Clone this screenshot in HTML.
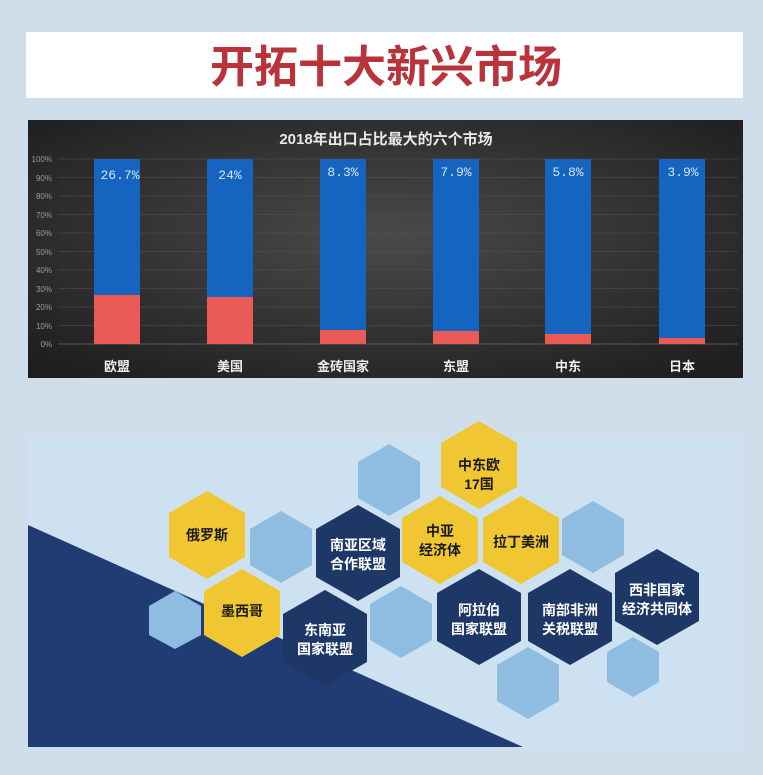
<!DOCTYPE html>
<html><head><meta charset="utf-8"><style>
html,body{margin:0;padding:0;background:#d0deec;}
svg{display:block;font-family:"Liberation Sans","Noto Sans CJK SC",sans-serif;}
</style></head><body>
<svg width="763" height="775" viewBox="0 0 763 775" xmlns="http://www.w3.org/2000/svg">
<defs>
<radialGradient id="bg" cx="50%" cy="45%" r="70%">
<stop offset="0" stop-color="#4a4a4a"/><stop offset="1" stop-color="#1e1e1e"/>
</radialGradient>
</defs>
<rect width="763" height="775" fill="#d0deec"/>
<rect x="26" y="32" width="717" height="66" fill="#ffffff"/>
<text x="386" y="82" text-anchor="middle" font-size="44" font-weight="bold" fill="#b8333a" font-family="'Noto Sans CJK SC',sans-serif">开拓十大新兴市场</text>

<rect x="28" y="120" width="715" height="258" fill="url(#bg)"/>
<text x="386" y="144" text-anchor="middle" font-size="15" font-weight="bold" fill="#e8e8e8">2018年出口占比最大的六个市场</text>
<g font-size="8" fill="#9a9a9a" text-anchor="end">
<text x="52" y="162">100%</text><text x="52" y="181">90%</text><text x="52" y="199">80%</text><text x="52" y="218">70%</text><text x="52" y="236">60%</text><text x="52" y="255">50%</text><text x="52" y="273">40%</text><text x="52" y="292">30%</text><text x="52" y="310">20%</text><text x="52" y="329">10%</text><text x="52" y="347">0%</text>
</g>
<g stroke="#555" stroke-width="0.6">
<line x1="58" y1="159" x2="738" y2="159"/><line x1="58" y1="177.5" x2="738" y2="177.5"/><line x1="58" y1="196" x2="738" y2="196"/><line x1="58" y1="214.5" x2="738" y2="214.5"/><line x1="58" y1="233" x2="738" y2="233"/><line x1="58" y1="251.5" x2="738" y2="251.5"/><line x1="58" y1="270" x2="738" y2="270"/><line x1="58" y1="288.5" x2="738" y2="288.5"/><line x1="58" y1="307" x2="738" y2="307"/><line x1="58" y1="325.5" x2="738" y2="325.5"/>
<line x1="58" y1="344" x2="738" y2="344" stroke="#888"/>
</g>
<g fill="#1565c0">
<rect x="94" y="159" width="46" height="185"/><rect x="207" y="159" width="46" height="185"/><rect x="320" y="159" width="46" height="185"/><rect x="433" y="159" width="46" height="185"/><rect x="545" y="159" width="46" height="185"/><rect x="659" y="159" width="46" height="185"/>
</g>
<g fill="#ea5a57">
<rect x="94" y="295" width="46" height="49"/><rect x="207" y="297" width="46" height="47"/><rect x="320" y="330" width="46" height="14"/><rect x="433" y="331" width="46" height="13"/><rect x="545" y="334" width="46" height="10"/><rect x="659" y="338" width="46" height="6"/>
</g>
<g font-size="13" fill="#cfe6ff" text-anchor="middle" font-family="'Liberation Mono',monospace">
<text x="120" y="179">26.7%</text><text x="230" y="179">24%</text><text x="343" y="176">8.3%</text><text x="456" y="176">7.9%</text><text x="568" y="176">5.8%</text><text x="683" y="176">3.9%</text>
</g>
<g font-size="13" font-weight="bold" fill="#eeeeee" text-anchor="middle">
<text x="117" y="371">欧盟</text><text x="230" y="371">美国</text><text x="343" y="371">金砖国家</text><text x="456" y="371">东盟</text><text x="568" y="371">中东</text><text x="682" y="371">日本</text>
</g>

<rect x="28" y="439" width="715" height="308" fill="#cde1f0"/>
<polygon points="28,525 28,747 523,747" fill="#213c72"/>

<g id="hex">
<!-- light -->
<g fill="#8fbde2">
<polygon points="175,591 201,606 201,635 175,649 149,635 149,606"/>
<polygon points="281,511 312,529 312,565 281,583 250,565 250,529"/>
<polygon points="389,444 420,462 420,498 389,516 358,498 358,462"/>
<polygon points="401,586 432,604 432,640 401,658 370,640 370,604"/>
<polygon points="593,501 624,519 624,555 593,573 562,555 562,519"/>
<polygon points="528,647 559,665 559,701 528,719 497,701 497,665"/>
<polygon points="633,637 659,652 659,682 633,697 607,682 607,652"/>
</g>
<g fill="#f0c733">
<polygon points="207,491 245,513 245,557 207,579 169,557 169,513"/>
<polygon points="242,569 280,591 280,635 242,657 204,635 204,591"/>
<polygon points="479,421 517,443 517,487 479,509 441,487 441,443"/>
<polygon points="440,496 478,518 478,562 440,584 402,562 402,518"/>
<polygon points="521,496 559,518 559,562 521,584 483,562 483,518"/>
</g>
<g fill="#1d3766">
<polygon points="358,505 400,529 400,577 358,601 316,577 316,529"/>
<polygon points="325,590 367,614 367,662 325,686 283,662 283,614"/>
<polygon points="479,569 521,593 521,641 479,665 437,641 437,593"/>
<polygon points="570,569 612,593 612,641 570,665 528,641 528,593"/>
<polygon points="657,549 699,573 699,621 657,645 615,621 615,573"/>
</g>
</g>
<g font-size="14" font-weight="bold" text-anchor="middle" fill="#1a1a1a">
<text x="207" y="540">俄罗斯</text>
<text x="242" y="616">墨西哥</text>
<text x="479" y="470">中东欧</text><text x="479" y="489">17国</text>
<text x="440" y="536">中亚</text><text x="440" y="555">经济体</text>
<text x="521" y="547">拉丁美洲</text>
</g>
<g font-size="14" font-weight="bold" text-anchor="middle" fill="#ffffff">
<text x="358" y="550">南亚区域</text><text x="358" y="569">合作联盟</text>
<text x="325" y="635">东南亚</text><text x="325" y="654">国家联盟</text>
<text x="479" y="615">阿拉伯</text><text x="479" y="634">国家联盟</text>
<text x="570" y="615">南部非洲</text><text x="570" y="634">关税联盟</text>
<text x="657" y="595">西非国家</text><text x="657" y="614">经济共同体</text>
</g>
</svg>
</body></html>
